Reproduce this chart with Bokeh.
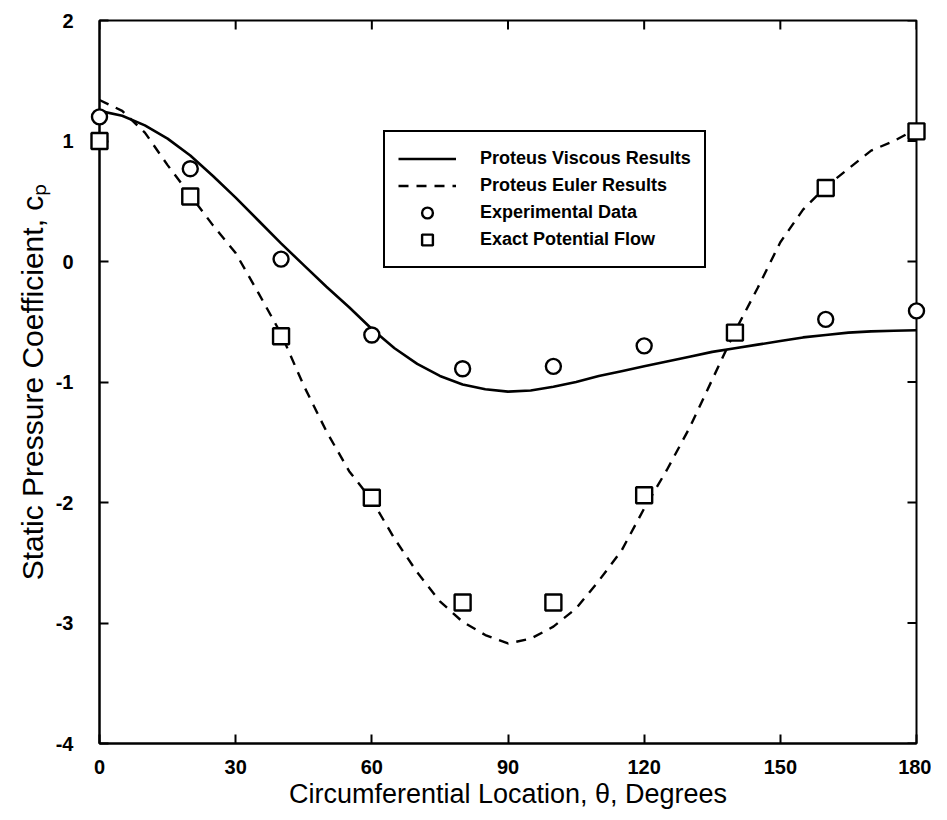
import math
from bokeh.plotting import figure
from bokeh.models import Range1d, FixedTicker, Legend, LegendItem
from bokeh.embed import file_html
from bokeh.resources import INLINE

# Data
theta_curve = [0, 5, 10, 15, 20, 25, 30, 35, 40, 45, 50, 55, 60, 65, 70, 75, 80, 85, 90,
               95, 100, 105, 110, 115, 120, 125, 130, 135, 140, 145, 150, 155, 160, 165,
               170, 175, 180]
viscous_cp = [1.25, 1.21, 1.13, 1.02, 0.88, 0.71, 0.53, 0.34, 0.15, -0.03, -0.21, -0.38,
              -0.56, -0.72, -0.85, -0.95, -1.02, -1.06, -1.08, -1.07, -1.04, -1.00, -0.95,
              -0.91, -0.87, -0.83, -0.79, -0.75, -0.72, -0.69, -0.66, -0.63, -0.61, -0.59,
              -0.58, -0.575, -0.57]
euler_cp = [1.34, 1.25, 1.07, 0.80, 0.55, 0.30, 0.07, -0.26, -0.60, -1.03, -1.41, -1.74,
            -1.98, -2.30, -2.58, -2.82, -2.99, -3.10, -3.17, -3.13, -3.03, -2.88, -2.65,
            -2.40, -2.05, -1.73, -1.38, -0.98, -0.58, -0.22, 0.16, 0.43, 0.62, 0.77,
            0.92, 1.00, 1.10]

theta_exp = [0, 20, 40, 60, 80, 100, 120, 160, 180]
exp_cp = [1.20, 0.77, 0.02, -0.61, -0.89, -0.87, -0.70, -0.48, -0.41]

theta_pot = [0, 20, 40, 60, 80, 100, 120, 140, 160, 180]
pot_cp = [1.00, 0.54, -0.62, -1.96, -2.83, -2.83, -1.94, -0.59, 0.61, 1.08]

x_ticks = [0, 30, 60, 90, 120, 150, 180]
y_ticks = [-4, -3, -2, -1, 0, 1, 2]

W, H = 931, 812
p = figure(width=W, height=H, output_backend="svg", toolbar_location=None,
           x_range=Range1d(x_ticks[0], x_ticks[-1]),
           y_range=Range1d(y_ticks[0], y_ticks[-1]),
           min_border_left=99, min_border_right=15, min_border_top=20,
           min_border_bottom=69)
p.grid.visible = False
p.outline_line_color = "black"
p.outline_line_width = 2
p.outline_line_alpha = 1
p.background_fill_color = "white"
p.border_fill_color = "white"

FONT = "Liberation Sans"

for ax, ticks in ((p.xaxis[0], x_ticks), (p.yaxis[0], y_ticks)):
    ax.ticker = FixedTicker(ticks=ticks)
    ax.major_label_overrides = {t: str(t) for t in ticks}
    ax.axis_line_width = 2
    ax.axis_line_color = "black"
    ax.major_tick_in = 9
    ax.major_tick_out = 0
    ax.major_tick_line_width = 2
    ax.minor_tick_line_color = None
    ax.major_label_text_font = FONT
    ax.major_label_text_font_style = "bold"
    ax.major_label_text_font_size = "20px"
    ax.major_label_text_color = "black"
    ax.axis_label_text_font = FONT
    ax.axis_label_text_font_style = "normal"
    ax.axis_label_text_color = "black"

p.xaxis.axis_label = "Circumferential Location, \u03b8, Degrees"
p.xaxis.axis_label_text_font_size = "27px"
p.xaxis.major_label_standoff = 16
p.xaxis.axis_label_standoff = 2
p.yaxis.axis_label = "Static Pressure Coefficient, c\u209a"
p.yaxis.axis_label_text_font_size = "30px"
p.yaxis.major_label_standoff = 26
p.yaxis.axis_label_standoff = 4

# mirrored inward ticks on the top and right frame edges (clipped dash markers)
p.scatter(x_ticks, [y_ticks[-1]] * len(x_ticks), marker="dash", angle=math.pi / 2,
          size=18, line_color="black", line_width=2)
p.scatter([x_ticks[-1]] * len(y_ticks), y_ticks, marker="dash",
          size=18, line_color="black", line_width=2)

r_visc = p.line(theta_curve, viscous_cp, line_color="black", line_width=2.6)
r_euler = p.line(theta_curve, euler_cp, line_color="black", line_width=2.4,
                 line_dash="10 8")
r_exp = p.scatter(theta_exp, exp_cp, marker="circle", size=15, fill_color="white",
                  line_color="black", line_width=2.4, level="overlay")
r_pot = p.scatter(theta_pot, pot_cp, marker="square", size=16, fill_color="white",
                  line_color="black", line_width=2.4, level="overlay")

legend = Legend(items=[
    LegendItem(label="Proteus Viscous Results", renderers=[r_visc]),
    LegendItem(label="Proteus Euler Results", renderers=[r_euler]),
    LegendItem(label="Experimental Data", renderers=[r_exp]),
    LegendItem(label="Exact Potential Flow", renderers=[r_pot]),
], location=(284, 475))
legend.border_line_color = "black"
legend.border_line_width = 2
legend.border_line_alpha = 1
legend.background_fill_color = "white"
legend.background_fill_alpha = 1
legend.label_text_font = FONT
legend.label_text_font_style = "bold"
legend.label_text_font_size = "18px"
legend.label_text_color = "black"
legend.glyph_width = 58
legend.glyph_height = 27
legend.label_height = 27
legend.label_standoff = 24
legend.spacing = 0
legend.padding = 13
legend.margin = 0
p.add_layout(legend, "center")

open("out.html", "w").write(file_html(p, INLINE))
